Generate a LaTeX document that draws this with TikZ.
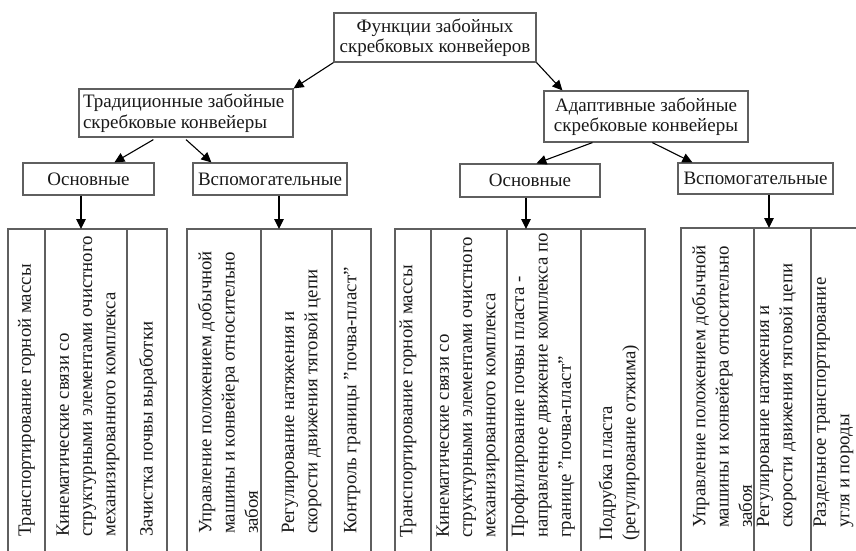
\documentclass[tikz,border=0pt]{standalone}
\usepackage{fontspec}
\setmainfont{Liberation Serif}
\definecolor{boxgray}{RGB}{95,95,95}
\definecolor{txtdark}{RGB}{25,25,25}
\usetikzlibrary{arrows.meta,positioning}

\begin{document}
\begin{tikzpicture}[x=1pt, y=-1pt,
        hbox/.style={rectangle, draw=boxgray, line width=1.2pt, inner sep=0pt, align=center,
                     text=txtdark, font=\fontsize{19}{20.5}\selectfont},
        vtext/.style={rotate=90, anchor=west, inner sep=0pt, align=flush left,
                      text=txtdark, font=\fontsize{18.8}{23.3}\selectfont},
        frame/.style={draw=boxgray, line width=1.1pt},
        arr/.style={-{Triangle[length=10pt, width=9.5pt]}, line width=1.1pt}
      ]
        \useasboundingbox (0,0) rectangle (856,550);
        \clip (0,0) rectangle (856,550);

        % Top of the tree
        \node[hbox, minimum width=202pt, minimum height=49pt] (func) at (435,37.5)
          {Функции забойных\\скребковых конвейеров};

        % Two kinds of conveyors
        \node[hbox, minimum width=214pt, minimum height=48pt, text width=206pt, align=flush left]
          (trad) at (186,113) {Традиционные забойные\\скребковые конвейеры};
        \node[hbox, minimum width=204pt, minimum height=51pt] (adapt) at (646,116.5)
          {Адаптивные забойные\\скребковые конвейеры};

        % Main / auxiliary
        \node[hbox, minimum width=131pt, minimum height=32pt] (trOsn) at (88.5,179) {Основные};
        \node[hbox, minimum width=154pt, minimum height=32pt] (trVsp) at (270,179) {Вспомогательные};
        \node[hbox, minimum width=140pt, minimum height=33pt] (adOsn) at (530,180.5) {Основные};
        \node[hbox, minimum width=155pt, minimum height=31pt] (adVsp) at (755.5,178.5) {Вспомогательные};

        \draw[arr] (func.south west) -- (trad.north east);
        \draw[arr] (func.south east) -- ([xshift=19pt]adapt.north west);
        \draw[arr] ([xshift=75pt, yshift=-2pt]trad.south west) -- ([xshift=92pt]trOsn.north west);
        \draw[arr] ([yshift=-2pt]trad.south) -- ([xshift=19pt]trVsp.north west);
        \draw[arr] ([xshift=49pt]adapt.south west) -- ([xshift=77pt]adOsn.north west);
        \draw[arr] ([xshift=109pt]adapt.south west) -- ([xshift=15pt]adVsp.north west);

        % Column groups
        \coordinate (gA) at (81,229);
        \coordinate (gB) at (279,229);
        \coordinate (gC) at (526,229);
        \coordinate (gD) at (769,228);
        \draw[frame] (8,560) |- (167,229) -- (167,560);
        \draw[frame] (187,560) |- (371,229) -- (371,560);
        \draw[frame] (395,560) |- (645,229) -- (645,560);
        \draw[frame] (681,560) |- (870,228);
        \foreach \x in {45,127,261,332,431,507,581}
          \draw[frame] (\x,229) -- (\x,560);
        \foreach \x in {754,811}
          \draw[frame] (\x,228) -- (\x,560);

        \draw[arr] (trOsn.south -| gA) -- (gA);
        \draw[arr] (trVsp.south -| gB) -- (gB);
        \draw[arr] (adOsn.south -| gC) -- (gC);
        \draw[arr] (adVsp.south -| gD) -- (gD);

        % Traditional, main
        \node[vtext] (a1) at (26.5,537) {Транспортирование горной массы};
        \node[vtext] (a2) at (88,537) {Кинематические связи со\\структурными элементами очистного\\механизированного комплекса};
        \node[vtext] (a3) at (148,537) {Зачистка почвы выработки};

        % Traditional, auxiliary
        \node[vtext] (b1) at (228,534) {Управление положением добычной\\машины и конвейера относительно\\забоя};
        \node[vtext] (b2) at (301.5,534) {Регулирование натяжения и\\скорости движения тяговой цепи};
        \node[vtext] (b3) at (352,534) {Контроль границы "почва-пласт"};

        % Adaptive, main
        \node[vtext] (c1) at (408,538) {Транспортирование горной массы};
        \node[vtext] (c2) at (468,538) {Кинематические связи со\\структурными элементами очистного\\механизированного комплекса};
        \node[vtext] (c3) at (543,538) {Профилирование почвы пласта -\\направленное движение комплекса по\\границе "почва-пласт"};
        \node[vtext] (c4) at (619,541) {Подрубка пласта\\(регулирование отжима)};

        % Adaptive, auxiliary
        \node[vtext] (d1) at (722,528) {Управление положением добычной\\машины и конвейера относительно\\забоя};
        \node[vtext] (d2) at (776.5,528) {Регулирование натяжения и\\скорости движения тяговой цепи};
        \node[vtext] (d3) at (833.5,528) {Раздельное транспортирование\\угля и породы};
      \end{tikzpicture}
\end{document}
